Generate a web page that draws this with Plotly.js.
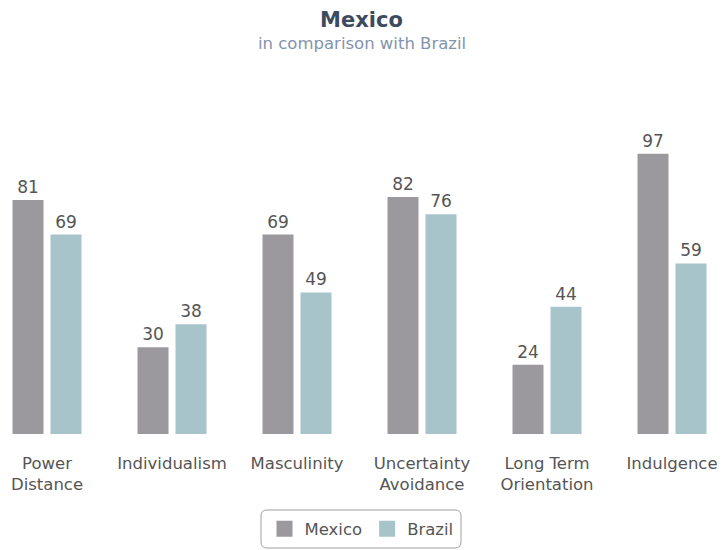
<!DOCTYPE html>
<html><head><meta charset="utf-8">
<script src="https://cdn.plot.ly/plotly-3.0.1.min.js"></script>
<style>html,body{margin:0;padding:0;background:#fff}#chart{width:723px;height:550px}</style>
</head><body><div id="chart"></div>
<script>
var categories = ["Power<br>Distance", "Individualism", "Masculinity", "Uncertainty<br>Avoidance", "Long Term<br>Orientation", "Indulgence"];
var mexico = [81, 30, 69, 82, 24, 97];
var brazil = [69, 38, 49, 76, 44, 59];
var seriesNames = ["Mexico", "Brazil"];
var titleText = "Mexico";
var subtitleText = "in comparison with Brazil";
var colors = ["#9b999d", "#a8c4cb"];
var FONT = "DejaVu Sans, Verdana, sans-serif";

function barTrace(name, vals, color) {
  return {type: "bar", name: name, x: categories, y: vals, marker: {color: color},
    text: vals.map(String), textposition: "outside", cliponaxis: false,
    textfont: {family: FONT, size: 17, color: "#555"}, showlegend: false, hoverinfo: "x+y"};
}
function legendTrace(name, color) {
  return {type: "scatter", mode: "markers", name: name, x: [null], y: [null],
    marker: {symbol: "square", size: 16, color: color}, showlegend: true};
}
var data = [barTrace(seriesNames[0], mexico, colors[0]), barTrace(seriesNames[1], brazil, colors[1]),
  legendTrace(seriesNames[0], colors[0]), legendTrace(seriesNames[1], colors[1])];

var W = 723, H = 550, L = 0, R = 0, T = 145, B = 116;
var pw = W - L - R, ph = H - T - B;
function px(x) { return (x - L) / pw; }
function py(y) { return (H - B - y) / ph; }
var x0 = px(261), x1 = px(461), y0 = py(548), y1 = py(510);
var rx = 6 / pw, ry = 6 / ph;
var path = "M" + (x0 + rx) + "," + y1 + " L" + (x1 - rx) + "," + y1 + " Q" + x1 + "," + y1 + " " + x1 + "," + (y1 - ry) +
  " L" + x1 + "," + (y0 + ry) + " Q" + x1 + "," + y0 + " " + (x1 - rx) + "," + y0 +
  " L" + (x0 + rx) + "," + y0 + " Q" + x0 + "," + y0 + " " + x0 + "," + (y0 + ry) +
  " L" + x0 + "," + (y1 - ry) + " Q" + x0 + "," + y1 + " " + (x0 + rx) + "," + y1 + " Z";

var layout = {
  width: W, height: H, margin: {l: L, r: R, t: T, b: B},
  paper_bgcolor: "#fff", plot_bgcolor: "#fff",
  font: {family: FONT, color: "#555"},
  title: {text: "<b>" + titleText + "</b>", font: {family: FONT, size: 21, color: "#3d4b5e"},
    x: 0.5, xanchor: "center", y: 1 - 20 / H, yanchor: "middle", yref: "container"},
  annotations: [{text: subtitleText, xref: "paper", yref: "paper", x: 0.5, y: py(44),
    xanchor: "center", yanchor: "middle", showarrow: false,
    font: {family: FONT, size: 16.5, color: "#8393ab"}}],
  barmode: "group", bargap: 0.392, bargroupgap: 0.184,
  xaxis: {type: "category", range: [-0.376, 5.408], showgrid: false, zeroline: false, showline: false,
    ticks: "outside", ticklen: 14, tickcolor: "rgba(0,0,0,0)",
    tickfont: {family: FONT, size: 16.5, color: "#555"}, fixedrange: true},
  yaxis: {range: [0, 100], visible: false, showgrid: false, zeroline: false, fixedrange: true},
  showlegend: true,
  legend: {orientation: "h", x: 0.5, xanchor: "center", y: py(529), yanchor: "middle",
    font: {family: FONT, size: 16.5, color: "#555"}, bgcolor: "rgba(0,0,0,0)"},
  shapes: [{type: "path", xref: "paper", yref: "paper", path: path, line: {color: "#a0a0a0", width: 1}, fillcolor: "rgba(0,0,0,0)"}]
};
Plotly.newPlot("chart", data, layout, {displayModeBar: false, staticPlot: true});
</script></body></html>
